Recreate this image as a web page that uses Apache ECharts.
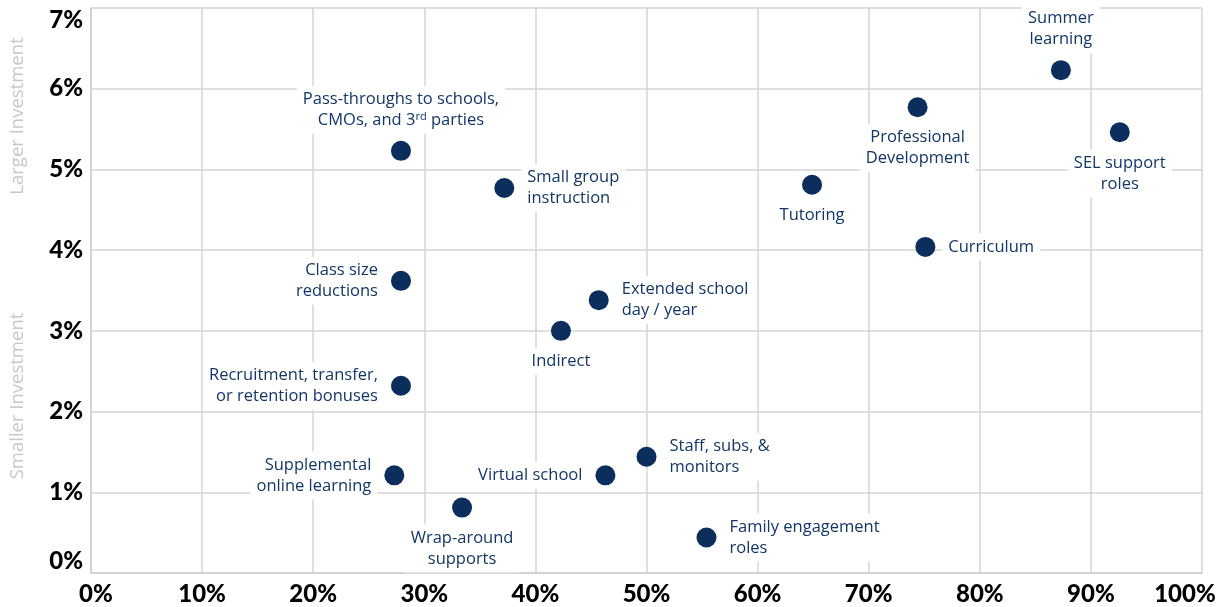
<!DOCTYPE html>
<html><head><meta charset="utf-8">
<script src="https://cdn.jsdelivr.net/npm/echarts@6/dist/echarts.min.js"></script>
<style>html,body{margin:0;padding:0;background:#fff}#c{width:1231px;height:607px}</style>
</head><body><div id="c"></div>
<script>
const names = [
  "Summer\nlearning",
  "Professional\nDevelopment",
  "SEL support\nroles",
  "Pass-throughs to schools,\nCMOs, and 3{sup|rd} parties",
  "Small group\ninstruction",
  "Tutoring",
  "Curriculum",
  "Class size\nreductions",
  "Extended school\nday / year",
  "Indirect",
  "Recruitment, transfer,\nor retention bonuses",
  "Supplemental\nonline learning",
  "Virtual school",
  "Staff, subs, &\nmonitors",
  "Wrap-around\nsupports",
  "Family engagement\nroles"
];
const xValues = [87.3, 74.4, 92.6, 27.9, 37.2, 64.9, 75.1, 27.9, 45.7, 42.3, 27.9, 27.3, 46.3, 50.0, 33.4, 55.4];
const yValues = [6.23, 5.77, 5.46, 5.23, 4.77, 4.81, 4.04, 3.62, 3.38, 3.00, 2.32, 1.21, 1.21, 1.44, 0.81, 0.44];
const xTicks = [0,10,20,30,40,50,60,70,80,90,100];
const yTicks = [0,1,2,3,4,5,6,7];
const yAxisNames = ["Larger Investment", "Smaller Investment"];

const labelPlacement = ["top","bottom","bottom","top","right","bottom","right","left","right","bottom","left","left","left","right","bottom","right"];

const navy = "#0b2e5c";
const data = names.map((n,i)=>({
  value:[xValues[i], yValues[i]],
  label:{position: labelPlacement[i]}
}));

const axisFont = {color:'#000',fontFamily:'Lato',fontWeight:900,fontSize:24};
const chart = echarts.init(document.getElementById('c'));
chart.setOption({
  animation:false,
  grid:{left:91,right:29,top:8,bottom:34,containLabel:false},
  xAxis:{
    type:'value',min:xTicks[0],max:xTicks[xTicks.length-1],interval:10,
    axisLine:{show:true,lineStyle:{color:'#cfcfcf',width:1.5}},
    axisTick:{show:false},
    splitLine:{show:true,lineStyle:{color:'#d4d4d4',width:1.5}},
    axisLabel:Object.assign({}, axisFont, {margin:9,
      formatter:(v)=> v===xTicks[0] ? '{l|'+v+'%}' : (v===xTicks[xTicks.length-1] ? '{r|'+v+'%}' : v+'%'),
      rich:{
        l:Object.assign({}, axisFont, {padding:[0,0,0,10]}),
        r:Object.assign({}, axisFont, {padding:[0,34,0,0]})
      }})
  },
  yAxis:{
    type:'value',min:yTicks[0],max:yTicks[yTicks.length-1],interval:1,
    axisLine:{show:true,lineStyle:{color:'#cfcfcf',width:1.5}},
    axisTick:{show:false},
    splitLine:{show:true,lineStyle:{color:'#d4d4d4',width:1.5}},
    axisLabel:Object.assign({}, axisFont, {formatter:'{value}%',margin:8,
      verticalAlignMinLabel:'bottom',verticalAlignMaxLabel:'top'})
  },
  graphic:[
    {type:'text',x:18,y:116,rotation:Math.PI/2,style:{text:yAxisNames[0],fill:'#c8c8c8',font:'18.5px "Open Sans"',textAlign:'center',textVerticalAlign:'middle'}},
    {type:'text',x:18,y:396,rotation:Math.PI/2,style:{text:yAxisNames[1],fill:'#c8c8c8',font:'18.5px "Open Sans"',textAlign:'center',textVerticalAlign:'middle'}}
  ],
  series:[{
    type:'scatter',
    symbolSize:20,
    itemStyle:{color:navy,opacity:1},
    data:data,
    label:{
      show:true,
      formatter:(p)=>names[p.dataIndex],
      color:'#133768',
      fontFamily:'Open Sans',
      fontSize:16.5,
      fontWeight:500,
      lineHeight:21,
      distance:7,
      backgroundColor:'#fff',
      padding:[3,6],
      rich:{sup:{fontSize:11,color:'#133768',fontFamily:'Open Sans',padding:[0,0,7,0]}}
    }
  }]
});
</script></body></html>
